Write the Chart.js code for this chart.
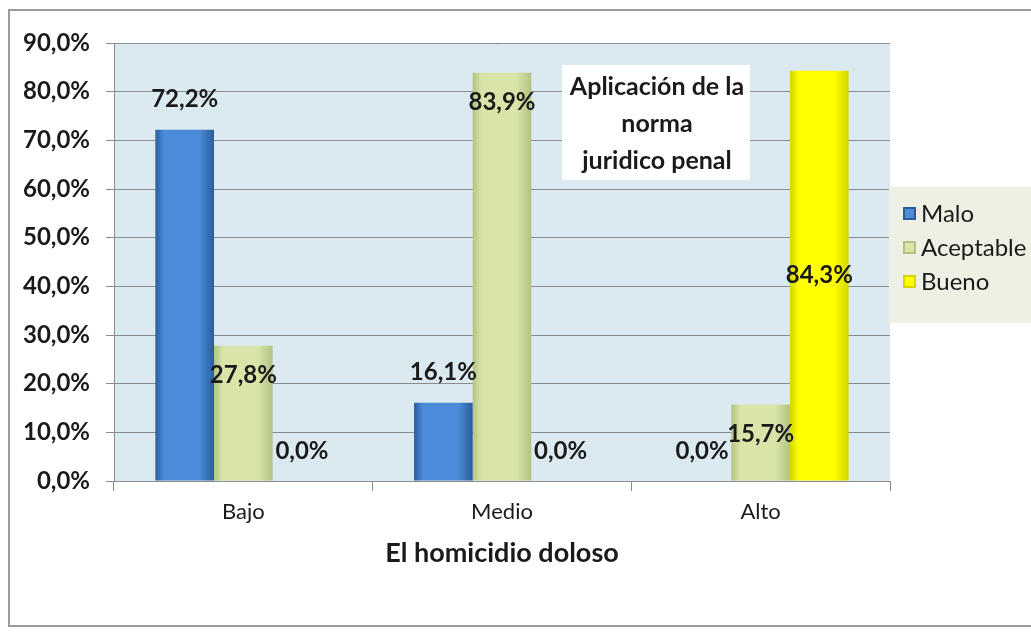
<!DOCTYPE html>
<html>
<head>
<meta charset="utf-8">
<script src="https://cdn.jsdelivr.net/npm/chart.js@4.4.0/dist/chart.umd.min.js"></script>
<style>
  html, body { margin: 0; padding: 0; background: #fff; }
  #wrap { position: relative; width: 1031px; height: 632px; overflow: hidden; }
  #frame { position: absolute; left: 8px; top: 9px; width: 1100px; height: 618px; border: 2px solid #9a9a9a; box-sizing: border-box; }
  canvas { position: absolute; left: 0; top: 0; }
</style>
</head>
<body>
<div id="wrap">
  <div id="frame"></div>
  <canvas id="chart" width="1031" height="632"></canvas>
</div>
<script>
const categories = ['Bajo', 'Medio', 'Alto'];
const seriesNames = ['Malo', 'Aceptable', 'Bueno'];
const malo = [72.2, 16.1, 0.0];
const aceptable = [27.8, 83.9, 15.7];
const bueno = [0.0, 0.0, 84.3];
const titleLines = ['Aplicación de la', 'norma', 'juridico penal'];
const axisTitle = 'El homicidio doloso';

// colours: [edge, middle]
const barColors = [['#2b5d9c', '#4b8bd8'], ['#b3c283', '#d8e4a8'], ['#d4d400', '#ffff00']];
const labelModes = ['outside', 'inside', 'center'];
const FONT = 'Lato';

const fmt = v => v.toFixed(1).replace('.', ',') + '%';

const bgPlugin = {
  id: 'bg',
  beforeDraw(chart) {
    const { ctx, chartArea: a } = chart;
    ctx.save();
    ctx.fillStyle = '#dbe9f1';
    ctx.fillRect(a.left, a.top, a.right - a.left, a.bottom - a.top);
    ctx.restore();
  },
  beforeDatasetsDraw(chart) {
    const ctx = chart.ctx;
    chart.data.datasets.forEach((ds, i) => {
      const [edge, mid] = barColors[i];
      chart.getDatasetMeta(i).data.forEach(el => {
        const l = el.x - el.width / 2, r = el.x + el.width / 2;
        const g = ctx.createLinearGradient(l, 0, r, 0);
        g.addColorStop(0, edge);
        g.addColorStop(0.15, mid);
        g.addColorStop(0.75, mid);
        g.addColorStop(1, edge);
        el.options.backgroundColor = g;
      });
    });
  },
  afterDatasetsDraw(chart) {
    const ctx = chart.ctx;
    ctx.save();
    ctx.font = 'bold 24px ' + FONT;
    ctx.fillStyle = '#1a1a1a';
    ctx.textAlign = 'center';
    ctx.textBaseline = 'middle';
    chart.data.datasets.forEach((ds, i) => {
      chart.getDatasetMeta(i).data.forEach((el, j) => {
        const v = ds.data[j];
        let mode = labelModes[i];
        if (v === 0) mode = 'outside';
        let y;
        if (mode === 'outside') y = el.y - 30;
        else if (mode === 'inside') y = el.y + 30;
        else y = (el.y + el.base) / 2;
        ctx.fillText(fmt(v), el.x, y);
      });
    });
    ctx.restore();
  },
  afterDraw(chart) {
    const ctx = chart.ctx;
    ctx.save();
    // title box inside plot
    ctx.fillStyle = '#ffffff';
    ctx.fillRect(562, 65, 188, 115);
    ctx.font = 'bold 25px ' + FONT;
    ctx.fillStyle = '#1a1a1a';
    ctx.textAlign = 'center';
    ctx.textBaseline = 'middle';
    titleLines.forEach((t, k) => ctx.fillText(t, 657, 87 + k * 37));
    // legend
    ctx.fillStyle = '#eef0e3';
    ctx.fillRect(889, 187, 145, 136);
    ctx.textAlign = 'left';
    ctx.font = '24px ' + FONT;
    seriesNames.forEach((n, k) => {
      const y = 213 + k * 34;
      const [edge, mid] = barColors[k];
      ctx.fillStyle = edge;
      ctx.fillRect(903, y - 6, 13, 13);
      ctx.fillStyle = mid;
      ctx.fillRect(905, y - 4, 9, 9);
      ctx.fillStyle = '#1a1a1a';
      ctx.fillText(n, 921, y + 1);
    });
    ctx.restore();
  }
};

const mkSet = (i, data) => ({
  label: seriesNames[i],
  data: data,
  backgroundColor: () => barColors[i][1],
  borderWidth: 0,
  categoryPercentage: 0.68,
  barPercentage: 1.0
});

new Chart(document.getElementById('chart'), {
  type: 'bar',
  data: {
    labels: categories,
    datasets: [mkSet(0, malo), mkSet(1, aceptable), mkSet(2, bueno)]
  },
  options: {
    responsive: false,
    animation: false,
    layout: { padding: { left: 0, top: 43, right: 141, bottom: 0 } },
    plugins: {
      legend: { display: false },
      tooltip: { enabled: false }
    },
    scales: {
      x: {
        afterFit: s => { s.height = 151; },
        grid: { drawOnChartArea: false, drawTicks: true, tickLength: 10, color: '#8c8c8c', offset: true },
        border: { color: '#8c8c8c', width: 1 },
        ticks: { color: '#1a1a1a', font: { family: FONT, size: 22 }, padding: 8 },
        title: {
          display: true, text: axisTitle, color: '#1a1a1a',
          font: { family: FONT, size: 27, weight: 'bold' },
          padding: { top: 0, bottom: 63 }
        }
      },
      y: {
        min: 0, max: 90,
        afterFit: s => { s.width = 114; },
        ticks: {
          stepSize: 10, color: '#1a1a1a', padding: 16,
          font: { family: FONT, size: 24, weight: 'bold' },
          callback: v => fmt(v)
        },
        grid: { color: '#8c8c8c', tickLength: 8, lineWidth: 1 },
        border: { color: '#8c8c8c', width: 1 }
      }
    }
  },
  plugins: [bgPlugin]
});
</script>
</body>
</html>
